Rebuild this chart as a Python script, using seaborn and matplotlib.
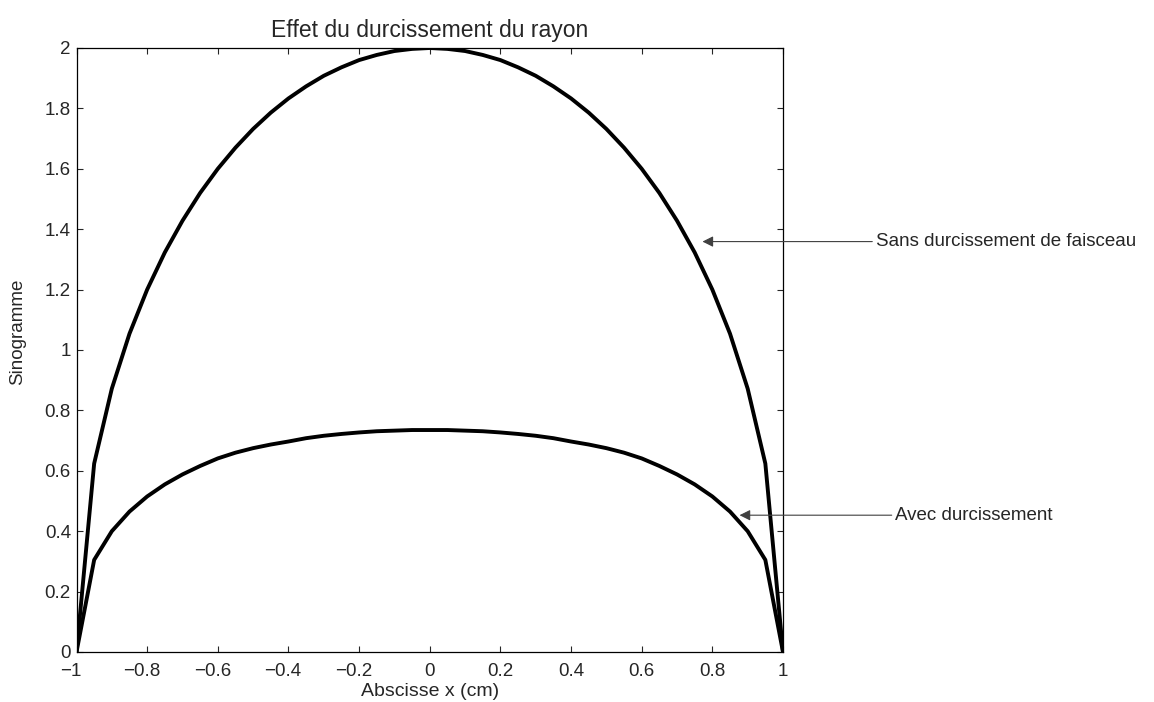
import numpy as np
import pandas as pd
import matplotlib
matplotlib.use("Agg")
import matplotlib.pyplot as plt
import matplotlib.transforms as mtransforms
import seaborn as sns

# Data (left half; the curves are symmetric)
x_half = [-1.0, -0.95, -0.9, -0.85, -0.8, -0.75, -0.7, -0.65, -0.6, -0.55, -0.5,
          -0.45, -0.4, -0.35, -0.3, -0.25, -0.2, -0.15, -0.1, -0.05, 0.0]
sans_half = [0.0, 0.624, 0.872, 1.054, 1.2, 1.323, 1.428, 1.52, 1.6, 1.67, 1.732,
             1.786, 1.833, 1.873, 1.908, 1.936, 1.96, 1.977, 1.99, 1.997, 2.0]
avec_half = [0.0, 0.305, 0.40, 0.465, 0.515, 0.555, 0.588, 0.616, 0.641, 0.66, 0.675,
             0.687, 0.697, 0.708, 0.716, 0.722, 0.727, 0.731, 0.733, 0.735, 0.735]

x_vals = x_half + [-v for v in x_half[-2::-1]]
sans_vals = sans_half + sans_half[-2::-1]
avec_vals = avec_half + avec_half[-2::-1]

title = "Effet du durcissement du rayon"
xlabel = "Abscisse x (cm)"
ylabel = "Sinogramme"
label_sans = "Sans durcissement de faisceau"
label_avec = "Avec durcissement"
xtick_labels = ["−1", "−0.8", "−0.6", "−0.4", "−0.2", "0", "0.2", "0.4", "0.6", "0.8", "1"]
ytick_labels = ["0", "0.2", "0.4", "0.6", "0.8", "1", "1.2", "1.4", "1.6", "1.8", "2"]

df = pd.DataFrame({
    "x": x_vals * 2,
    "y": sans_vals + avec_vals,
    "serie": [label_sans] * len(x_vals) + [label_avec] * len(x_vals),
})

sns.set_style("ticks")
plt.rcParams["font.family"] = ["Liberation Sans", "DejaVu Sans"]
plt.rcParams["xtick.direction"] = "in"
plt.rcParams["ytick.direction"] = "in"

FS = 13.5
fig = plt.figure(figsize=(11.54, 7.02), dpi=100)
W, H = 1154, 702
left, right, top, bottom = 76.5, 783, 48, 652
ax = fig.add_axes([left / W, (H - bottom) / H, (right - left) / W, (bottom - top) / H])

sns.lineplot(data=df, x="x", y="y", units="serie", estimator=None,
             color="black", linewidth=2.8, ax=ax, legend=False, sort=False)
for ln in ax.get_lines():
    ln.set_solid_joinstyle("round")

ax.set_xlim(-1, 1)
ax.set_ylim(0, 2)
ax.set_xticks(np.linspace(-1, 1, 11))
ax.set_yticks(np.linspace(0, 2, 11))
ax.set_xticklabels(xtick_labels)
ax.set_yticklabels(ytick_labels)
ax.tick_params(axis="both", labelsize=FS, length=4, width=0.8, top=True, right=True)
ax.tick_params(axis="x", pad=8)
ax.tick_params(axis="y", pad=4)
for s in ax.spines.values():
    s.set_visible(True)
    s.set_linewidth(0.9)
    s.set_color("black")

ax.set_title(title, fontsize=16.5, pad=8)
ax.set_xlabel(xlabel, fontsize=14, labelpad=2)
ax.set_ylabel(ylabel, fontsize=FS)
ax.yaxis.set_label_coords(-0.071, 0.53)

arrow_kw = dict(arrowstyle="-|>", color="0.25", lw=0.8,
                shrinkA=0, shrinkB=0, mutation_scale=16)
ax.annotate(label_sans, xy=(0.772, 1.359), xytext=(1.262, 1.359),
            textcoords="data", annotation_clip=False, fontsize=FS,
            va="center", ha="left", arrowprops=arrow_kw)
ax.annotate(label_avec, xy=(0.877, 0.453), xytext=(1.317, 0.453),
            textcoords="data", annotation_clip=False, fontsize=FS,
            va="center", ha="left", arrowprops=arrow_kw)

# negative labels: the number part is centred on the tick, the minus sign hangs left
shift = mtransforms.ScaledTranslation(-5.5 / 100, 0, fig.dpi_scale_trans)
for lab in ax.get_xticklabels():
    if lab.get_text().startswith("−"):
        lab.set_transform(lab.get_transform() + shift)

fig.savefig("out.png", dpi=100)
